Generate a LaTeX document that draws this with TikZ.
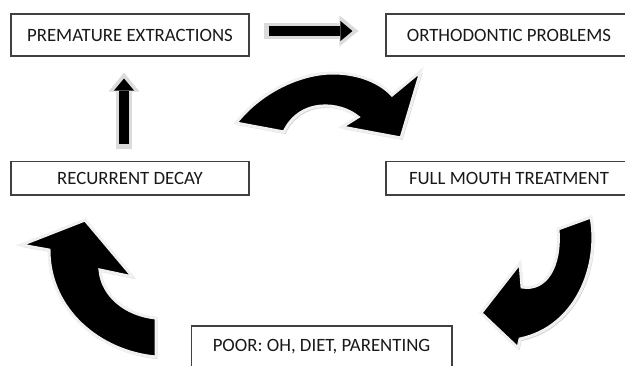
\documentclass[tikz,border=0pt]{standalone}
\usepackage{fontspec}
\setmainfont{Carlito}
\usetikzlibrary{arrows.meta, positioning, calc, shadows}

\begin{document}
\begin{tikzpicture}[
  x=0.02cm, y=-0.02cm,
  node distance=2.72cm,
  stagebox/.style={rectangle, draw=black!75, line width=0.6pt, fill=white, minimum width=4.76cm, minimum height=0.84cm, inner sep=0pt, font=\fontsize{10.7}{12}\selectfont, text=black!90,
    drop shadow={shadow xshift=0.02cm, shadow yshift=-0.025cm, fill=gray!80, opacity=0.6}},
  blockarrow/.style={line width=0.19cm, -{Triangle[width=0.4cm, length=0.24cm, line width=0pt]},
    preaction={draw=gray!28, line width=0.32cm, -{Triangle[width=0.62cm, length=0.38cm, line width=0pt]}, shorten >=-0.12cm, shorten <=-0.1cm}},
  bentarrow/.style={fill=black, draw=gray!12, line width=0.06cm, drop shadow={shadow xshift=0.03cm, shadow yshift=-0.04cm, fill=gray!70, opacity=0.5}}
]
  \useasboundingbox (0,0) rectangle (625,365);

  % The five stages, top row first and then the row below it.
  \node[stagebox] (prem) at (130,35) {PREMATURE EXTRACTIONS};
  \node[stagebox, right=of prem, minimum width=4.92cm] (ortho) {ORTHODONTIC PROBLEMS};
  \node[stagebox, below=2.08cm of prem, minimum height=0.68cm] (recur) {RECURRENT DECAY};
  \node[stagebox, below=2.08cm of ortho, minimum width=4.92cm, minimum height=0.68cm] (full) {FULL MOUTH TREATMENT};
  \node[stagebox, minimum width=5.22cm] (poor) at (321.5,347) {POOR: OH, DIET, PARENTING};

  % Straight block arrows between the boxes
  \draw[blockarrow] ($(prem.east)+(19,-4)$) -- ($(ortho.west)+(-33,-4)$);
  \draw[blockarrow] ($(recur.north)+(-6,-17)$) -- ($(prem.south)+(-6,22)$);

  % The three bent arrows, drawn as plain shapes
  \path[bentarrow] (236,123) .. controls (260,92) and (300,73) .. (333,73)
    .. controls (360,73) and (381,83) .. (392,95) -- (421,71) -- (401,138) -- (342,127) -- (358,117)
    .. controls (340,102) and (300,98) .. (284,132) -- cycle;
  \path[bentarrow] (591,217) .. controls (600,265) and (577,327) .. (520,339)
    -- (518,348) -- (481,313) -- (520,263) -- (522,287)
    .. controls (545,291) and (561,268) .. (558,229) -- cycle;
  \path[bentarrow] (156,357) .. controls (100,352) and (49,310) .. (49,250)
    -- (21,245) -- (85,220) -- (133,277) -- (100,270)
    .. controls (102,295) and (125,315) .. (156,318) -- cycle;

\end{tikzpicture}
\end{document}
